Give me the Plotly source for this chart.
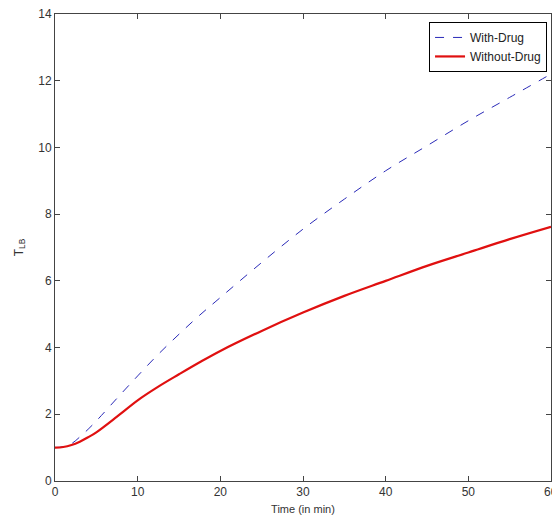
import plotly.graph_objects as go

time_min = [0, 1, 2, 3, 4, 5, 7.5, 10, 12.5, 15, 17.5, 20, 25, 30, 35, 40, 45, 50, 55, 60]
with_drug = [1.0, 1.03, 1.12, 1.32, 1.55, 1.8, 2.48, 3.15, 3.8, 4.4, 4.97, 5.5, 6.55, 7.55, 8.45, 9.3, 10.05, 10.8, 11.5, 12.2]
without_drug = [1.0, 1.02, 1.08, 1.18, 1.31, 1.46, 1.93, 2.42, 2.83, 3.2, 3.56, 3.9, 4.5, 5.05, 5.55, 6.0, 6.45, 6.85, 7.25, 7.62]

x_ticks = [0, 10, 20, 30, 40, 50, 60]
y_ticks = [0, 2, 4, 6, 8, 10, 12, 14]

fig = go.Figure()
fig.add_trace(go.Scatter(x=time_min, y=with_drug, mode="lines", name="With-Drug",
                         line=dict(color="#2a2ab8", width=1, dash="dash", shape="spline")))
fig.add_trace(go.Scatter(x=time_min, y=without_drug, mode="lines", name="Without-Drug",
                         line=dict(color="#e01010", width=2.2, shape="spline")))

fam = "Liberation Sans, Arial, sans-serif"
fig.update_layout(
    width=552, height=517,
    margin=dict(l=55, r=1, t=14, b=36),
    paper_bgcolor="white", plot_bgcolor="white",
    font=dict(family=fam, size=12, color="#333333"),
    showlegend=True,
    legend=dict(x=0.992, y=0.983, xanchor="right", yanchor="top",
                bgcolor="white", bordercolor="#000000", borderwidth=1,
                font=dict(family=fam, size=12, color="#222222"),
                tracegroupgap=0, itemwidth=30),
    xaxis=dict(range=[0, 60], tickvals=x_ticks, ticktext=[str(v) for v in x_ticks],
               ticks="inside", ticklen=5, tickcolor="#444444",
               showline=True, linecolor="#444444", linewidth=1, mirror="ticks",
               showgrid=False, zeroline=False,
               title=dict(text="Time (in min)", font=dict(size=11, color="#333333"), standoff=6)),
    yaxis=dict(range=[0, 14], tickvals=y_ticks, ticktext=[str(v) for v in y_ticks],
               ticks="inside", ticklen=5, tickcolor="#444444",
               showline=True, linecolor="#444444", linewidth=1, mirror="ticks",
               showgrid=False, zeroline=False,
               title=dict(text="T<sub>LB</sub>", font=dict(size=12, color="#333333"), standoff=12)),
)

# last x tick label, cut by the page edge as in the reference
fig.add_annotation(x=x_ticks[-1], y=0, xref="x", yref="paper", text=str(x_ticks[-1]),
                   showarrow=False, yanchor="top", xanchor="center", yshift=-2,
                   font=dict(family=fam, size=12, color="#333333"))

fig.write_html("out.html")
